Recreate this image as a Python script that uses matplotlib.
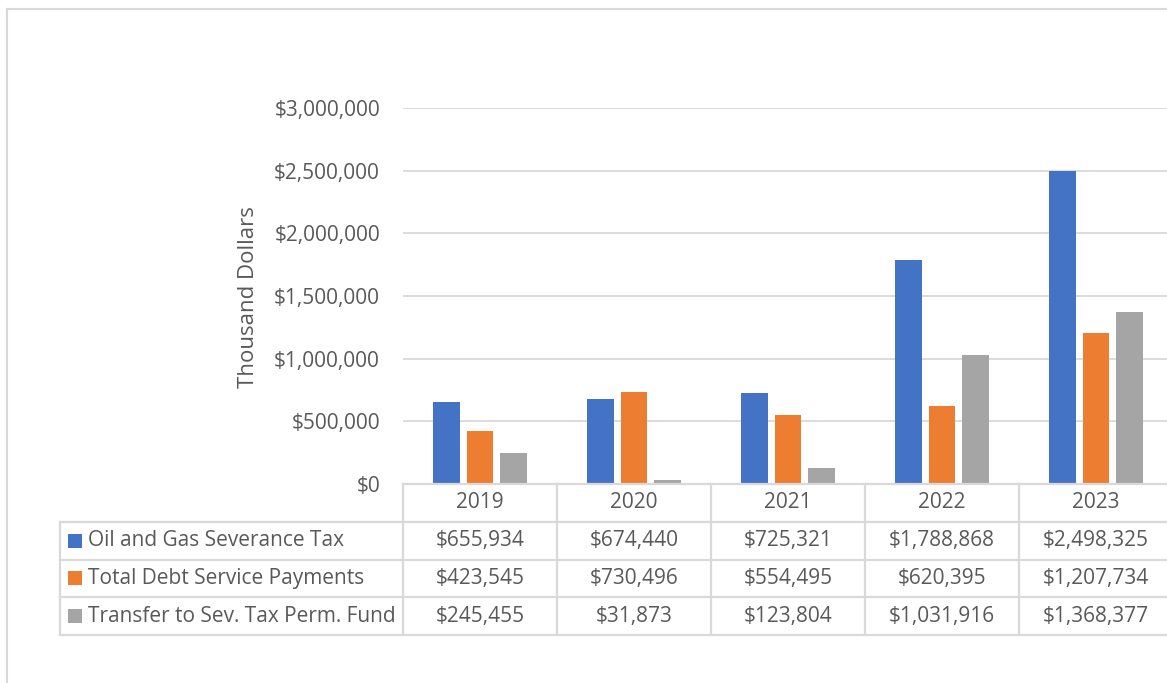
import matplotlib
matplotlib.use("Agg")
import matplotlib.pyplot as plt
from matplotlib.patches import Rectangle
from matplotlib.lines import Line2D
from matplotlib.ticker import FuncFormatter, MultipleLocator

years = ["2019", "2020", "2021", "2022", "2023"]
series_names = ["Oil and Gas Severance Tax",
                "Total Debt Service Payments",
                "Transfer to Sev. Tax Perm. Fund"]
oil_gas = [655934, 674440, 725321, 1788868, 2498325]
debt_service = [423545, 730496, 554495, 620395, 1207734]
transfer = [245455, 31873, 123804, 1031916, 1368377]
series_values = [oil_gas, debt_service, transfer]
colors = ["#4472C4", "#ED7D31", "#A5A5A5"]

TEXT = "#595959"
GRID = "#D9D9D9"
FONT = "Open Sans"
FS = 15

plt.rcParams['font.family'] = [FONT, 'DejaVu Sans']

W, H = 1167, 683
fig = plt.figure(figsize=(W / 100, H / 100), dpi=100)


def fx(px):
    return px / W


def fy(py):
    return 1 - py / H


# outer chart border (left & top visible)
fig.add_artist(Line2D([fx(7), fx(7)], [fy(9), 0], transform=fig.transFigure,
                      color=GRID, lw=1.5))
fig.add_artist(Line2D([fx(7), 1], [fy(9), fy(9)], transform=fig.transFigure,
                      color=GRID, lw=1.5))

# main axes
ax = fig.add_axes([fx(403), fy(484), fx(1173) - fx(403), fy(108) - fy(484)])
n = len(years)
offsets = [-0.22, 0.0, 0.22]
width = 0.175
for vals, off, col, name in zip(series_values, offsets, colors, series_names):
    ax.bar([i + off for i in range(n)], vals, width=width, color=col, label=name, zorder=3)

ax.set_xlim(-0.5, n - 0.5)
ax.set_ylim(0, 3000000)
ax.yaxis.set_major_locator(MultipleLocator(500000))
ax.yaxis.set_major_formatter(FuncFormatter(lambda v, p: f"${int(v):,}"))
ax.yaxis.grid(True, color=GRID, lw=1.3)
ax.set_axisbelow(True)
for s in ax.spines.values():
    s.set_visible(False)
ax.set_xticks([])
ax.tick_params(axis='y', length=0, pad=16.5, labelsize=FS, labelcolor=TEXT)

fig.text(fx(248), fy(297), "Thousand Dollars", rotation=90, ha='center', va='center',
         fontsize=16, color=TEXT)

# data table
label_w = (403 - 60) / 154
xmin = -0.5 - label_w
tax = fig.add_axes([fx(60), fy(635), fx(1173) - fx(60), fy(484) - fy(635)])
tax.set_xlim(xmin, n - 0.5)
tax.set_ylim(4, 0)
tax.axis('off')

lw = 1.6
tax.plot([-0.5, n - 0.5], [0, 0], color=GRID, lw=lw, clip_on=False)
for r in range(1, 5):
    tax.plot([xmin, n - 0.5], [r, r], color=GRID, lw=lw, clip_on=False)
for c in range(n + 1):
    tax.plot([c - 0.5, c - 0.5], [0, 4], color=GRID, lw=lw, clip_on=False)
tax.plot([xmin, xmin], [1, 4], color=GRID, lw=lw, clip_on=False)

for i, y in enumerate(years):
    tax.text(i, 0.5, y, ha='center', va='center', fontsize=FS, color=TEXT)

sq_w = 14 / 154
sq_h = 14 / 38
for r, (name, vals, col) in enumerate(zip(series_names, series_values, colors)):
    yc = r + 1.5
    tax.add_patch(Rectangle((xmin + 8 / 154, yc - sq_h / 2), sq_w, sq_h,
                            facecolor=col, edgecolor='none', clip_on=False))
    tax.text(xmin + 28 / 154, yc, name, ha='left', va='center', fontsize=FS, color=TEXT)
    for i, v in enumerate(vals):
        tax.text(i, yc, f"${v:,}", ha='center', va='center', fontsize=FS, color=TEXT)

fig.savefig("out.png", dpi=100)
